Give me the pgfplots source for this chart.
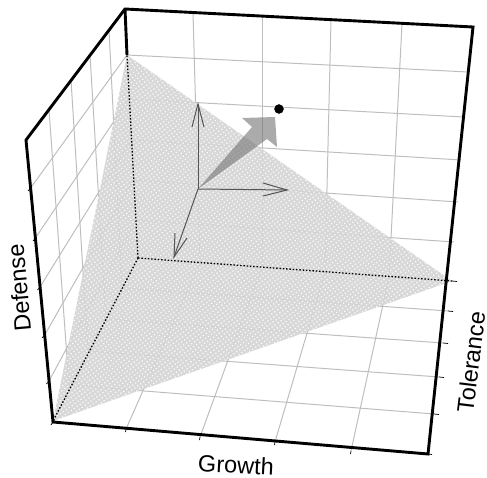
\documentclass[border=0pt]{standalone}
\usepackage{pgfplots}
\pgfplotsset{compat=1.18}
\usepackage{fontspec}
\setmainfont{Liberation Sans}
\usetikzlibrary{patterns.meta}
\definecolor{gridc}{RGB}{190,190,190}
\definecolor{triface}{RGB}{212,212,212}
\definecolor{vec}{RGB}{85,85,85}
\tikzset{
  gridl/.style={gridc, line width=1pt},
  boxl/.style={black, line width=2.9pt, line join=miter},
  tickl/.style={black, line width=0.7pt},
  vector/.style={vec, line width=1pt},
  spine/.style={black, line width=1.3pt, dash pattern=on 1.5pt off 1.8pt},
  axlabel/.style={font=\fontsize{23.5}{26}\selectfont, inner sep=0pt}
}
\begin{document}
\begin{tikzpicture}
\begin{axis}[
  width=487pt, height=478pt, scale only axis,
  xmin=0, xmax=487, ymin=0, ymax=478, y dir=reverse,
  hide axis, clip=false
]
% keeps the page as large as the whole axis
\path (axis cs:0,0) rectangle (axis cs:487,478);
% back wall, verticals
\addplot[gridl] coordinates {(193,13) (200,262.5)};
\addplot[gridl] coordinates {(262,16) (262,267)};
\addplot[gridl] coordinates {(331,20) (325,272)};
\addplot[gridl] coordinates {(402,24) (389,277)};
% back wall, horizontals
\addplot[gridl] coordinates {(127,55) (468,72)};
\addplot[gridl] coordinates {(129,99) (464,117)};
\addplot[gridl] coordinates {(131,140) (461,160)};
\addplot[gridl] coordinates {(133,180) (458,202)};
\addplot[gridl] coordinates {(136,220) (454,242)};
% left wall, verticals
\addplot[gridl] coordinates {(109,30) (122,288)};
\addplot[gridl] coordinates {(90,55) (106,319)};
\addplot[gridl] coordinates {(71,80) (88,351)};
\addplot[gridl] coordinates {(49,110) (69,385)};
% left wall, horizontals
\addplot[gridl] coordinates {(30.6,188) (127,55)};
\addplot[gridl] coordinates {(35.4,238) (129,99)};
\addplot[gridl] coordinates {(40,287) (131,140)};
\addplot[gridl] coordinates {(44.7,335) (133,180)};
\addplot[gridl] coordinates {(49,381) (136,220)};
% floor
\addplot[gridl] coordinates {(126,429) (200,262.5)};
\addplot[gridl] coordinates {(200,437) (262,267)};
\addplot[gridl] coordinates {(275,442) (325,272)};
\addplot[gridl] coordinates {(351,451) (389,277)};
\addplot[gridl] coordinates {(69,385) (434,414)};
\addplot[gridl] coordinates {(88,351) (439,377)};
\addplot[gridl] coordinates {(106,319) (443,343)};
\addplot[gridl] coordinates {(122,288) (448,311)};
\addplot[gridl] coordinates {(138,258) (452,281)};
% simplex
\addplot[draw=none, fill=triface, fill opacity=0.9] coordinates {(127,55) (452,281) (53,421)} --cycle;
\addplot[draw=none, pattern={Dots[distance=3.6pt, radius=0.9pt, angle=35]}, pattern color=white, opacity=0.9] coordinates {(127,55) (452,281) (53,421)} --cycle;
% simplex spines
\addplot[spine] coordinates {(138,258) (127,55)};
\addplot[spine] coordinates {(138,258) (452,281)};
\addplot[spine] coordinates {(138,258) (53,421)};
% box outline
\addplot[boxl] coordinates {(53,422) (428,454) (473,27) (125,9) (26,140)} --cycle;
\addplot[boxl] coordinates {(125,9) (127,55)};
% ticks
\addplot[tickl] coordinates {(126,429) (125.5,432)};
\addplot[tickl] coordinates {(200,437) (199.5,440)};
\addplot[tickl] coordinates {(275,442) (274.5,445)};
\addplot[tickl] coordinates {(351,451) (350.5,454)};
\addplot[tickl] coordinates {(428,454) (432,454.5)};
\addplot[tickl] coordinates {(434,414) (439,414.5)};
\addplot[tickl] coordinates {(439,377) (444,377.5)};
\addplot[tickl] coordinates {(443,343) (448,343.5)};
\addplot[tickl] coordinates {(448,311) (453,311.5)};
\addplot[tickl] coordinates {(452,281) (457,281.5)};
\addplot[tickl] coordinates {(30.6,188) (28,191)};
\addplot[tickl] coordinates {(35.4,238) (33,241)};
\addplot[tickl] coordinates {(40,287) (37.5,290)};
\addplot[tickl] coordinates {(44.7,335) (42,338)};
\addplot[tickl] coordinates {(49,381) (46.5,384)};
\addplot[tickl] coordinates {(53,422) (51,425)};
% mean vectors
\addplot[vector] coordinates {(198,189) (198,104)};
\addplot[vector] coordinates {(192,127) (198,104) (204,127)};
\addplot[vector] coordinates {(198,189) (287,190)};
\addplot[vector] coordinates {(263,183) (287,190) (263,196)};
\addplot[vector] coordinates {(198,189) (174,257)};
\addplot[vector] coordinates {(175,233) (174,257) (187,238)};
% response arrow
\addplot[draw=none, fill=black!55, fill opacity=0.6] coordinates {(198,189) (252,127) (242,118) (275,117) (277,147) (267,139)} --cycle;
\addplot[only marks, mark=*, mark size=4.5pt, black] coordinates {(279,109)};
% labels
\node[axlabel, rotate=-3] at (axis cs:236,465) {Growth};
\node[axlabel, rotate=95] at (axis cs:19,288) {Defense};
\node[axlabel, rotate=83] at (axis cs:471,362) {Tolerance};
\end{axis}
\end{tikzpicture}
\end{document}
